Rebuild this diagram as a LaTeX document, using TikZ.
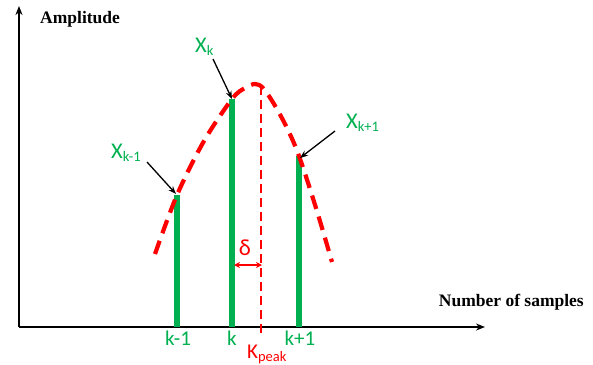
\documentclass[tikz,border=0pt]{standalone}
\usepackage{fontspec}
\setmainfont{Carlito}
\newfontfamily\timesfont{Liberation Serif}
\usetikzlibrary{arrows.meta}
\definecolor{ggreen}{HTML}{00B050}
\definecolor{pred}{HTML}{FF0000}
\newcommand\lowsub[1]{\raisebox{-0.3ex}{\fontsize{14.5}{15}\selectfont #1}}
\begin{document}
\begin{tikzpicture}[x=1pt,y=-1pt,
  axis/.style={line width=2pt,-{Stealth[length=9pt,width=7pt]}},
  axislabel/.style={font=\timesfont\bfseries\fontsize{17.5}{19}\selectfont,inner sep=0pt},
  bar/.style={ggreen,line width=6pt},
  curve/.style={pred,line width=4.2pt,dash pattern=on 14pt off 8pt},
  peakline/.style={pred,line width=2.2pt,dash pattern=on 9pt off 5pt},
  lbl/.style={ggreen,font=\fontsize{22.5}{24}\selectfont,inner sep=0pt},
  ticklbl/.style={ggreen,font=\fontsize{21}{22}\selectfont,inner sep=0pt},
  pointer/.style={black,line width=1.3pt,-{Stealth[length=8pt,width=6pt]}}]
\useasboundingbox (0,0) rectangle (593,364);
% axes
\coordinate (O) at (19,327);
\coordinate (ytop) at (19,6);
\coordinate (xend) at (485,327);
\draw[axis] (O) -- (ytop);
\draw[axis] (O) -- (xend);
\node[axislabel,anchor=base west] (amp) at (40,23) {Amplitude};
\node[axislabel,anchor=base east] (nos) at (584,306) {Number of samples};
% bars
\coordinate (b1b) at (177,327); \coordinate (b1t) at (177,195);
\coordinate (b2b) at (232,327); \coordinate (b2t) at (232,99);
\coordinate (b3b) at (299,327); \coordinate (b3t) at (299,156);
\draw[bar] (b1b) -- (b1t);
\draw[bar] (b2b) -- (b2t);
\draw[bar] (b3b) -- (b3t);
% fitted curve
\draw[curve] plot[smooth,tension=0.55] coordinates {(155,254) (177,195) (204,141) (232,99) (245,88) (255,84) (263,88) (274,104) (287,128) (299,156) (316,208) (332,262)};
% peak line
\coordinate (pkt) at (261,86);
\coordinate (pkb) at (261,333);
\draw[peakline] (pkt) -- (pkb);
% delta
\node[pred,font=\fontsize{23}{24}\selectfont,inner sep=0pt,anchor=base] (delta) at (245,255) {δ};
\coordinate (da) at (234,265);
\coordinate (db) at (262,265);
\draw[pred,line width=1.6pt,{Stealth[length=6pt,width=6pt]}-{Stealth[length=6pt,width=6pt]}] (da) -- (db);
% labels
\node[lbl,anchor=base west] (xkm) at (111,158) {X\lowsub{k-1}};
\node[lbl,anchor=base west] (xk) at (195,52) {X\lowsub{k}};
\node[lbl,anchor=base west] (xkp) at (346,128) {X\lowsub{k+1}};
\coordinate (p1s) at (147,162); \coordinate (p1e) at (176,194);
\coordinate (p2s) at (213,59); \coordinate (p2e) at (232,99);
\coordinate (p3s) at (335,131); \coordinate (p3e) at (300,158);
\draw[pointer] (p1s) -- (p1e);
\draw[pointer] (p2s) -- (p2e);
\draw[pointer] (p3s) -- (p3e);
% tick labels
\node[ticklbl,anchor=base] (t1) at (178,345) {k-1};
\node[ticklbl,anchor=base] (t2) at (232,345) {k};
\node[ticklbl,anchor=base] (t3) at (300,345) {k+1};
\node[pred,font=\fontsize{21}{22}\selectfont,inner sep=0pt,anchor=base west] (kpk) at (247,358) {K\lowsub{peak}};
\end{tikzpicture}
\end{document}
